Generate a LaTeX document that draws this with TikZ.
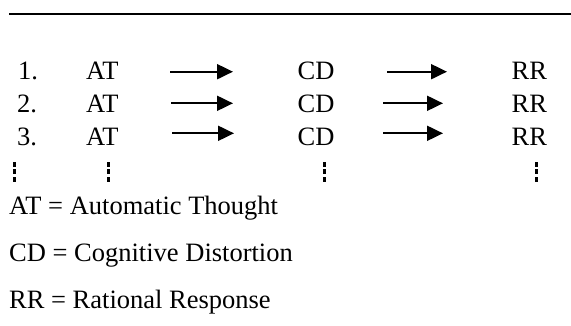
\documentclass[tikz,border=0pt]{standalone}
\usepackage{fontspec}
\setmainfont{Liberation Serif}
\usetikzlibrary{arrows.meta}
\begin{document}
\begin{tikzpicture}[x=1pt,y=-1pt,
  txt/.style={anchor=base west,inner sep=0pt,font=\fontsize{26.5}{30}\selectfont},
  arr/.style={line width=2pt,-{Triangle[length=16pt,width=15pt]}},
  vdot/.style={fill=black,draw=none}]
\useasboundingbox (0,0) rectangle (571,325);
\draw[line width=2pt] (9,14) -- (571,14);
% rows
\node[txt] (n1) at (18,79.3) {1.};
\node[txt] (at1) at (86,79.3) {AT};
\node[txt] (cd1) at (297.5,79.3) {CD};
\node[txt] (rr1) at (511.5,79.3) {RR};
\node[txt] (n2) at (17,112.7) {2.};
\node[txt] (at2) at (86,112.7) {AT};
\node[txt] (cd2) at (297.5,112.7) {CD};
\node[txt] (rr2) at (511.5,112.7) {RR};
\node[txt] (n3) at (17,145.3) {3.};
\node[txt] (at3) at (86,145.3) {AT};
\node[txt] (cd3) at (297.5,145.3) {CD};
\node[txt] (rr3) at (511.5,145.3) {RR};
% arrows
\draw[arr,shorten <=51.7pt,shorten >=64.5pt] ([yshift=7.6pt]at1.base east) -- ([yshift=7.6pt]cd1.base west);
\draw[arr,shorten <=52.7pt,shorten >=64.5pt] ([yshift=7.6pt]cd1.base east) -- ([yshift=7.6pt]rr1.base west);
\draw[arr,shorten <=52.7pt,shorten >=64.5pt] ([yshift=9.4pt]at2.base east) -- ([yshift=9.4pt]cd2.base west);
\draw[arr,shorten <=48.7pt,shorten >=68.5pt] ([yshift=9.4pt]cd2.base east) -- ([yshift=9.4pt]rr2.base west);
\draw[arr,shorten <=53.7pt,shorten >=63.5pt] ([yshift=12pt]at3.base east) -- ([yshift=12pt]cd3.base west);
\draw[arr,shorten <=48.7pt,shorten >=68.5pt] ([yshift=12pt]cd3.base east) -- ([yshift=12pt]rr3.base west);
% vertical dots
\foreach \cx in {14,108.5,324,536.5}{
  \fill[vdot] (\cx-1.5,162) rectangle (\cx+1.5,167);
  \fill[vdot] (\cx-1.5,168.5) rectangle (\cx+1.5,173.5);
  \fill[vdot] (\cx-1.5,177) rectangle (\cx+1.5,182);
}
% legend
\node[txt] (l1) at (9,214) {AT = Automatic Thought};
\node[txt] (l2) at (9,261) {CD = Cognitive Distortion};
\node[txt] (l3) at (9,308) {RR = Rational Response};
\end{tikzpicture}
\end{document}
